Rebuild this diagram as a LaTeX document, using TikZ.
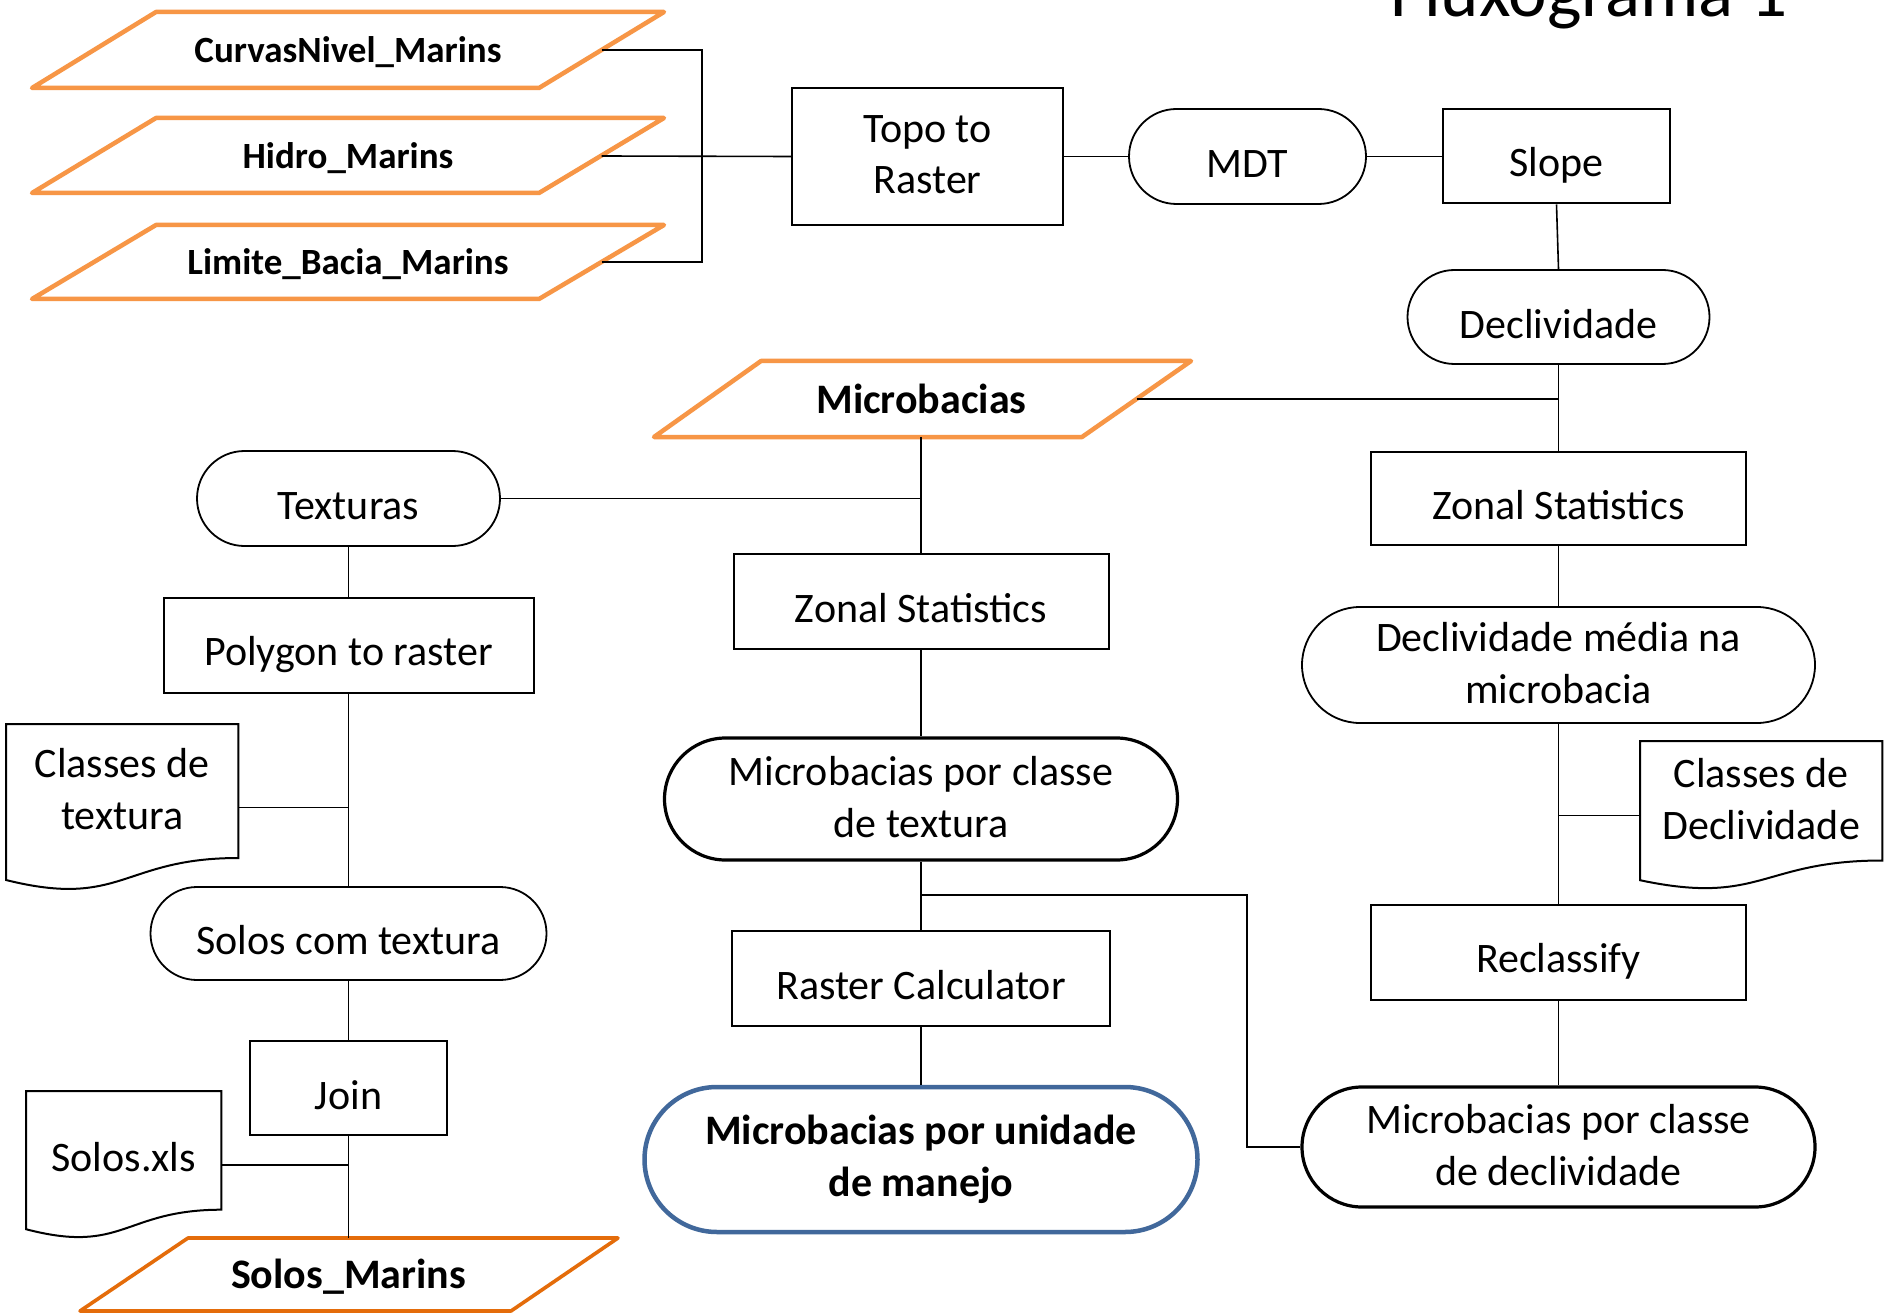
\documentclass[tikz,border=0pt]{standalone}
\usepackage{fontspec}
\setmainfont{Carlito}
\usetikzlibrary{shapes.misc,calc}
\definecolor{orgA}{HTML}{F79646}
\definecolor{orgB}{HTML}{E46C0A}
\definecolor{bluA}{HTML}{41689B}
\newcommand\ms{\rule[-0.1em]{0pt}{1.221em}}
\begin{document}
\begin{tikzpicture}[x=1pt,y=-1pt,
  txt/.style={font=\fontsize{42}{51.7}\selectfont, align=center, inner sep=0pt,
    execute at begin node=\ms, execute at end node=\ms},
  btxt/.style={txt, font=\bfseries\fontsize{42}{51.7}\selectfont},
  stxt/.style={txt, font=\bfseries\fontsize{37}{45}\selectfont},
  box/.style={txt, draw, rectangle, line width=2pt},
  stad/.style={txt, draw, rounded rectangle, line width=1.8pt},
  heavystad/.style={txt, draw, rounded rectangle, line width=3.2pt},
  bluestad/.style={btxt, draw=bluA, rounded rectangle, line width=4.5pt},
  conn/.style={line width=1.6pt},
  docline/.style={line width=2pt, line join=miter},
  para/.style={draw=orgA, line width=4.5pt, line join=round},
  parab/.style={draw=orgB, line width=3.6pt, line join=round},
  holder/.style={inner sep=0pt, anchor=north west}
]
\fill[white] (0,0) rectangle (1884,1313);
\useasboundingbox (0,0) rectangle (1884,1313);

% title
\node[font=\fontsize{73}{88}\selectfont, anchor=base, inner sep=0pt] (title) at (1589,17) {Fluxograma 1};

% top-left inputs
\draw[para] (156,12) -- (664,12) -- (539,88) -- (32,88) -- cycle;
\node[stxt] (cnm) at (348,44) {CurvasNivel\_Marins};
\coordinate (cnmr) at (601.5,50);
\draw[para] (156,118) -- (664,118) -- (539,193) -- (32,193) -- cycle;
\node[stxt] (hid) at (348,150) {Hidro\_Marins};
\coordinate (hidr) at (601.5,156);
\draw[para] (156,225) -- (664,225) -- (539,299) -- (32,299) -- cycle;
\node[stxt] (lbm) at (348,256) {Limite\_Bacia\_Marins};
\coordinate (lbmr) at (601.5,262);
\coordinate (bus) at (702,156);

% top row
\node[box, minimum width=271pt, minimum height=137pt] (topo) at (927.5,156.5) {Topo to\\Raster};
\node[stad, minimum width=237pt, minimum height=95pt] (mdt) at (1247.5,156.5) {MDT};
\node[box, minimum width=227pt, minimum height=94pt] (slope) at (1556.5,156.5) {Slope};

% right column
\node[stad, minimum width=302pt, minimum height=94pt] (decl) at (1558.5,317) {Declividade};
\node[box, minimum width=375pt, minimum height=93pt] (zs2) at (1558.5,498.5) {Zonal Statistics};
\node[stad, minimum width=513pt, minimum height=116pt] (dm) at (1558.5,665) {Declividade média na\\microbacia};
\node[box, minimum width=375pt, minimum height=95pt] (recl) at (1558.5,952.5) {Reclassify};
\node[heavystad, minimum width=513pt, minimum height=120pt] (mcd) at (1558.5,1147) {Microbacias por classe\\de declividade};

% Classes de Declividade document
\node[holder, minimum width=242pt, minimum height=149pt] (cdd) at (1640,741) {};
\draw[docline] (cdd.north west) -- (cdd.north east) -- ($(cdd.north east)+(0,119.5)$)
  .. controls ($(cdd.north)+(0,119.5)$) and ($(cdd.north)+(0,165)$) .. ($(cdd.north west)+(0,139.2)$) -- cycle;
\node[txt] (cddt) at ($(cdd.north)+(0,59.7)$) {Classes de\\Declividade};
\coordinate (cddc) at ($(cdd.north west)+(0,74.5)$);

% center column
\draw[para] (761,361) -- (1191,361) -- (1082,437) -- (654,437) -- cycle;
\node[btxt] (mb) at (921.5,392) {Microbacias};
\coordinate (mbr) at (1136.5,399);
\coordinate (mbb) at (921,437);
\node[box, minimum width=375pt, minimum height=95pt] (zs1) at (921,601.5) {Zonal Statistics};
\node[heavystad, minimum width=513pt, minimum height=122pt] (mct) at (921,799) {Microbacias por classe\\de textura};
\node[box, minimum width=378pt, minimum height=95pt] (rc) at (921,978.5) {Raster Calculator};
\node[bluestad, minimum width=553pt, minimum height=145pt] (mum) at (921,1159.5) {Microbacias por unidade\\de manejo};
\coordinate (br) at (1247,895);

% left column
\node[stad, minimum width=303pt, minimum height=95pt] (tex) at (348.5,498.5) {Texturas};
\node[box, minimum width=370pt, minimum height=95pt] (pr) at (348.5,645.5) {Polygon to raster};
\node[stad, minimum width=396pt, minimum height=93pt] (sct) at (348.5,933.5) {Solos com textura};
\node[box, minimum width=197pt, minimum height=94pt] (join) at (348.5,1088) {Join};
\draw[parab] (188,1238) -- (618,1238) -- (511,1311) -- (80,1311) -- cycle;
\node[btxt] (sm) at (348.5,1268) {Solos\_Marins};
\coordinate (smt) at (348.5,1238);

% Classes de textura document
\node[holder, minimum width=232pt, minimum height=167pt] (cdt) at (6,724) {};
\draw[docline] (cdt.north west) -- (cdt.north east) -- ($(cdt.north east)+(0,134)$)
  .. controls ($(cdt.north)+(0,134)$) and ($(cdt.north)+(0,185)$) .. ($(cdt.north west)+(0,156)$) -- cycle;
\node[txt] (cdtt) at ($(cdt.north)+(0,67)$) {Classes de\\textura};
\coordinate (cdtc) at ($(cdt.north east)+(0,83.5)$);

% Solos.xls document
\node[holder, minimum width=195pt, minimum height=148pt] (sx) at (26,1091) {};
\draw[docline] (sx.north west) -- (sx.north east) -- ($(sx.north east)+(0,118.7)$)
  .. controls ($(sx.north)+(0,118.7)$) and ($(sx.north)+(0,163.8)$) .. ($(sx.north west)+(0,138.2)$) -- cycle;
\node[txt] (sxt) at ($(sx.north)+(0,59.3)$) {Solos.xls};
\coordinate (sxc) at ($(sx.north east)+(0,74)$);

% connectors
\draw[conn] (cnmr) -| (bus);
\draw[conn] (lbmr) -| (bus);
\draw[conn] (hidr) -- (topo.west);
\draw[conn] (topo.east) -- (mdt.west);
\draw[conn] (mdt.east) -- (slope.west);
\draw[conn] (slope.south) -- (decl.north);
\draw[conn] (decl.south) -- (zs2.north);
\draw[conn] (mbr) -- (mbr -| decl.south);
\draw[conn] (zs2.south) -- (dm.north);
\draw[conn] (dm.south) -- (recl.north);
\draw[conn] (cddc) -- (cddc -| dm.south);
\draw[conn] (recl.south) -- (mcd.north);
\draw[conn] (mcd.west) -| (br) -- (br -| mct.south);
\draw[conn] (mbb) -- (zs1.north);
\draw[conn] (tex.east) -- (tex.east -| mbb);
\draw[conn] (zs1.south) -- (mct.north);
\draw[conn] (mct.south) -- (rc.north);
\draw[conn] (rc.south) -- (mum.north);
\draw[conn] (tex.south) -- (pr.north);
\draw[conn] (pr.south) -- (sct.north);
\draw[conn] (cdtc) -- (cdtc -| pr.south);
\draw[conn] (sct.south) -- (join.north);
\draw[conn] (join.south) -- (smt);
\draw[conn] (sxc) -- (sxc -| join.south);
\end{tikzpicture}
\end{document}
